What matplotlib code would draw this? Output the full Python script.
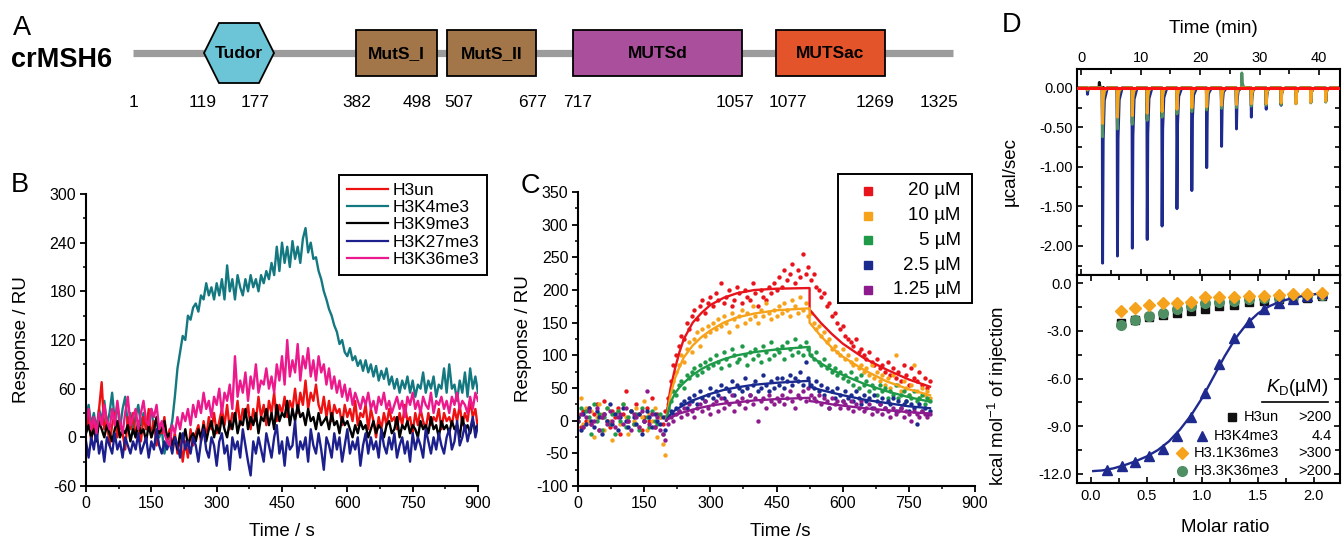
import numpy as np
import matplotlib
matplotlib.use('Agg')
import matplotlib.pyplot as plt
from matplotlib.patches import Rectangle, Polygon
from matplotlib.lines import Line2D
from matplotlib.ticker import MultipleLocator, FormatStrFormatter

plt.rcParams['font.family'] = ['Liberation Sans', 'DejaVu Sans']
plt.rcParams['axes.unicode_minus'] = False
plt.rcParams['mathtext.fontset'] = 'custom'
plt.rcParams['mathtext.rm'] = 'Liberation Sans'
plt.rcParams['mathtext.it'] = 'Liberation Sans:italic'
plt.rcParams['mathtext.bf'] = 'Liberation Sans:bold'

# ---------------- Panel A data ----------------
protein_name = 'crMSH6'
domain_names = ['Tudor', 'MutS_I', 'MutS_II', 'MUTSd', 'MUTSac']
domain_start = [119, 382, 507, 717, 1077]
domain_end = [177, 498, 677, 1057, 1269]
domain_colors = ['#6cc5d6', '#a27648', '#a27648', '#a94f9c', '#e4542a']
residue_labels = [1, 119, 177, 382, 498, 507, 677, 717, 1057, 1077, 1269, 1325]
# schematic layout (figure pixels)
layout_line = (133, 953, 53)
layout_dom_left = [204, 356, 447, 573, 776]
layout_dom_right = [274, 437, 536, 742, 885]
layout_label_x = [133, 203, 255, 357, 417, 459, 533, 578, 735, 788, 875, 939]

# ---------------- Panel B data (SPR sensorgrams) ----------------
b_names = ['H3un', 'H3K4me3', 'H3K9me3', 'H3K27me3', 'H3K36me3']
b_colors = ['#ee1111', '#147880', '#000000', '#1c1f8c', '#ec198c']
b_h3un = [10, 25, -5, 20, 0, 35, 68, 10, 20, -10, 15, 30, 0, 20, 5, -15, 25, 10, 30, 0, 15, -5, 25, 10, 35, 0, 20, -10, 15, 5, 25, -5,
          10, -10, 5, -20, 0, -30, -5, -25, 10, -10, 5, 15, -5, 20, 0, 25, 10, 30, 5, 20, 35, 15, 40, 10, 30, 20, 45, 15, 35, 25,
          40, 10, 35, 20, 50, 25, 40, 15, 45, 30, 55, 20, 40, 30, 50, 25, 45, 35, 60, 30, 55, 40, 70, 35, 55, 45, 65, 40, 30, 50,
          25, 45, 20, 40, 30, 35, 15, 40, 25, 35, 20, 45, 15, 30, 25, 40, 10, 35, 20, 0, 25, 10, 30, 15, 35, 20, 25, 10, 30, 15,
          40, 20, 25, 5, 30, 15, 35, 20, 10, 30, 15, 25, 20, 35, 10, 30, 20, 25, 15, 35, 20, 40, 15, 30, 20, 45, 25, 35, 10]
b_h3k4me3 = [25, 40, 15, 30, 10, 35, 20, 45, 15, 30, 55, 20, 40, 10, 35, 50, 15, 30, 5, 25, 40, 15, 30, 10, 25, 35, 10, 20, 0, 10, -20, -5,
             5, 20, 50, 85, 105, 125, 120, 150, 145, 160, 165, 155, 175, 170, 190, 175, 185, 170, 190, 175, 195, 170, 212, 180,
             195, 170, 200, 185, 175, 195, 180, 200, 185, 195, 180, 200, 190, 205, 195, 215, 200, 235, 205, 240, 215, 235, 210,
             242, 220, 235, 215, 245, 258, 228, 240, 220, 222, 205, 195, 180, 170, 158, 150, 138, 130, 115, 120, 105, 100, 110,
             95, 100, 88, 95, 82, 95, 80, 90, 75, 88, 70, 82, 72, 85, 65, 75, 60, 72, 55, 70, 60, 75, 55, 70, 50, 65, 60, 80, 55,
             70, 60, 75, 50, 65, 60, 85, 55, 90, 60, 65, 45, 70, 55, 80, 50, 85, 60, 75, 55]
b_h3k9me3 = [5, 15, 0, 10, -5, 20, 10, 0, 15, 5, -5, 10, 20, 0, 10, 5, 15, -5, 10, 0, 20, 5, 10, -5, 15, 0, 10, 25, 5, 10, 20, 0,
             5, -10, 0, -15, 5, -5, 10, -10, 0, 5, -5, 10, 0, 15, -5, 10, 20, 0, 15, 5, 25, 10, 0, 20, 10, 30, 5, 20, 15, 35, 10,
             25, 15, 30, 5, 25, 20, 35, 15, 30, 10, 40, 20, 30, 25, 45, 15, 35, 20, 40, 25, 30, 15, 35, 20, 25, 10, 30, 15, 20,
             25, 10, 30, 15, 20, 5, 25, 15, 20, 10, 0, 15, 5, 20, 10, 15, 0, 10, 20, 5, 15, 10, 0, 15, 20, 5, 10, 25, 0, 15, 10,
             20, 5, 15, 10, 0, 20, 10, 15, 5, 25, 10, 15, 0, 20, 10, 15, 5, 20, 10, 15, 0, 25, 10, 15, 5, 20, 10, 15]
b_h3k27me3 = [-5, -25, 0, -15, 10, -20, -5, -30, 0, -10, -20, 5, -15, -5, -25, 0, -10, -20, -5, -15, 5, -20, -10, 0, -25, -5, -15,
              10, -10, -20, -5, -15,
              -5, -20, 0, -10, -25, 5, -15, -5, -20, 0, -10, -30, -5, 10, -15, -25, 0, -10, -35, -5, 5, -20, -10, -40, 0, -15,
              -5, -25, 10, -10, -30, -47, -5, -20, 0, -15, -30, 5, -10, -25, 0, 15, -20, -5, -35, 0, -15, -10, 20, -25, -5, -15,
              0, -30, 10, -10, -20, 5, -15, -40, 0, -10, -25, 5, -15, 0, -30, -10, 10, -20, -5, -15, 0, -35, -10, 5, -20, 0, -15,
              -5, -25, 10, -10, -20, 0, -15, 5, -25, -10, 0, -20, -5, -30, 5, -15, 0, -10, -25, 10, -5, -20, 0, -15, 5, -10, -20,
              0, 10, -15, -5, 20, -10, 0, 15, -5, 10, 25, 0, 15]
b_h3k36me3 = [20, 35, 10, 25, 5, 30, 15, 40, 20, 10, 35, 15, 45, 20, 5, 30, 50, 15, 25, 35, 10, 30, 45, 20, 15, 35, 25, 40, 10, 20,
              5, -5,
              -10, 15, 5, 25, 10, 30, 20, 35, 15, 40, 25, 45, 30, 55, 35, 45, 25, 50, 40, 60, 30, 55, 45, 65, 35, 100, 50, 70, 55,
              80, 45, 75, 60, 90, 55, 70, 65, 85, 60, 75, 55, 90, 70, 100, 65, 120, 75, 95, 80, 115, 70, 100, 85, 110, 75, 95, 70,
              100, 80, 90, 65, 85, 60, 75, 55, 70, 50, 65, 45, 60, 40, 55, 45, 35, 50, 40, 55, 35, 45, 30, 50, 40, 55, 35, 45, 30,
              40, 50, 35, 45, 25, 50, 40, 55, 35, 45, 30, 50, 40, 35, 55, 30, 45, 40, 50, 35, 45, 30, 50, 40, 55, 35, 45, 40, 30,
              50, 35, 55, 45]
b_series = [b_h3un, b_h3k4me3, b_h3k9me3, b_h3k27me3, b_h3k36me3]
b_draw_order = [1, 0, 2, 3, 4]

# ---------------- Panel C data (SPR, concentration series) ----------------
c_labels = ['20 \u00b5M', '10 \u00b5M', '5 \u00b5M', '2.5 \u00b5M', '1.25 \u00b5M']
c_colors = ['#e8141c', '#f7a21b', '#1e9a48', '#1a2a8f', '#8e1b8e']
c_20 = [5, -10, 15, 0, 20, -5, 10, 25, -15, 5, 30, 0, -10, 15, 5, 20, -20, 10, 45, 0, 15, -5, 25, 10, -15, 5, 20, 0, 35, -10, 10,
        5, -5, 15,
        35, 60, 85, 100, 115, 130, 125, 150, 140, 160, 170, 155, 175, 185, 165, 180, 190,
        175, 195, 185, 210, 180, 190, 200, 175, 185, 205, 195, 180, 200, 190, 185, 210, 195, 175, 200, 190, 185, 205, 195, 210, 200,
        220, 205, 230, 215, 225, 240, 210, 230, 220, 255, 225, 235,
        215, 225, 205, 200, 190, 195, 175, 180, 160, 165, 150, 140, 145,
        130, 125, 120, 115, 125, 105, 110, 100, 95, 105, 90, 85, 95, 80, 85, 75, 90, 70, 80, 65, 75, 60, 85, 70, 55, 80, 65, 60,
        75, 55, 65, 50, 60]
c_10 = [10, 35, -5, 20, 0, 15, -25, 5, 25, 10, -15, 20, 0, -30, 10, 15, -5, 25, 5, -20, 15, 0, 20, -10, 5, 30, -15, 10, 0, 20,
        -25, 5, -35, -53,
        25, 45, 60, 75, 85, 100, 90, 110, 120, 105, 125, 135, 115, 140, 130, 145, 135,
        150, 140, 155, 145, 160, 150, 135, 165, 155, 145, 160, 170, 150, 165, 155, 175, 160, 150, 170, 160, 180, 165, 155, 170, 160,
        175, 165, 180, 170, 160, 185, 175, 165, 190, 170, 180, 160,
        165, 150, 140, 145, 130, 135, 120, 125, 110, 115, 105, 100, 110,
        95, 100, 90, 85, 95, 80, 85, 75, 80, 70, 85, 65, 75, 60, 70, 55, 65, 50, 70, 100, 55, 45, 60, 50, 40, 55, 85, 45, 35, 50,
        40, 45, 35]
c_5 = [0, 20, -10, 15, 5, -20, 25, 0, 10, -15, 5, 20, -5, 10, -20, 15, 0, 25, -10, 5, 15, -5, 10, -15, 20, 0, 5, -10, 15, 0, -5,
       10, -20, 5,
       20, 30, 45, 40, 55, 60, 50, 70, 65, 75, 80, 70, 85, 75, 90, 80, 95,
       85, 100, 90, 80, 105, 95, 85, 110, 100, 90, 95, 115, 100, 85, 105, 95, 110, 100, 90, 115, 105, 95, 120, 100, 110,
       105, 115, 95, 120, 110, 100, 125, 105, 115, 100, 120, 110,
       100, 95, 105, 90, 85, 95, 80, 85, 75, 80, 70, 75, 65,
       70, 60, 75, 55, 65, 50, 70, 55, 60, 45, 55, 50, 40, 55, 45, 50, 35, 45, 40, 55, 35, 40, 45, 30, 40, 35, 45, 30, 35, 40, 25,
       35, 30]
c_2p5 = [5, -15, 10, -5, 20, 0, -10, 15, 5, -20, 10, 0, 25, -5, 10, -15, 5, 20, 0, -10, 15, 5, -5, 10, -20, 0, 15, 5, -10, 10, 0,
         -5, 5, -15,
         5, 15, 10, 20, 15, 25, 30, 20, 35, 30, 40, 25, 45, 35, 30, 40, 50,
         35, 45, 40, 55, 35, 50, 45, 60, 40, 55, 50, 45, 65, 50, 40, 55, 60, 45, 50, 70, 55, 45, 60, 50, 65,
         55, 65, 50, 60, 70, 55, 65, 60, 75, 55, 90, 65,
         55, 50, 60, 45, 55, 40, 50, 20, 45, 35, 50, 40, 30,
         45, 35, 40, 30, 45, 35, 25, 40, 30, 35, 20, 40, 30, 25, 35, 20, 30, 25, 35, 15, 30, 20, 25, 30, 15, 25, 20, -5, 25, 15,
         20, 10, 15]
c_1p25 = [0, 10, -10, 5, 15, -5, 0, 20, -15, 5, 10, -5, 15, 0, -10, 5, 10, -5, 20, 0, -15, 10, 5, -10, 15, 0, 45, -5, 10, -10, 5,
          -15, -20, -30,
          -5, 5, 0, 10, 15, 5, 20, 10, 25, 15, 5, 20, 25, 15, 30, 20, 10,
          25, 30, 15, 35, 20, 30, 25, 40, 15, 30, 25, 35, 20, 30, 40, 25, 35, 0, 30, 35, 20, 40, 30, 25, 35,
          30, 40, 25, 35, 45, 30, 20, 40, 35, 45, 30, 50,
          40, 35, 30, 40, 25, 35, 30, 20, 35, 25, 30, 20, 30,
          25, 20, 30, 15, 25, 20, 30, 15, 20, 25, 10, 20, 15, 25, 10, 20, 15, 5, 20, 10, 15, 20, 5, 15, 10, 0, 15, 10, 5, 15, 10,
          5, 10]
c_series = [c_20, c_10, c_5, c_2p5, c_1p25]
# fitted curves (time s, response RU)
c_fit_t = [200, 205, 210, 220, 230, 240, 260, 280, 300, 330, 360, 400, 450, 525, 525, 550, 575, 600, 650, 700, 750, 798]
c_fit_20 = [0, 30, 50, 80, 105, 125, 150, 165, 177, 188, 195, 200, 202, 203, 170, 150, 133, 118, 95, 78, 63, 52]
c_fit_10 = [0, 20, 40, 65, 82, 97, 115, 128, 138, 150, 158, 164, 169, 172, 150, 130, 112, 98, 77, 60, 48, 39]
c_fit_5 = [0, 15, 28, 42, 51, 58, 70, 79, 86, 94, 100, 105, 109, 113, 100, 88, 78, 70, 56, 45, 36, 29]
c_fit_2p5 = [0, 5, 10, 16, 20, 24, 31, 36, 41, 47, 51, 55, 58, 61, 52, 47, 43, 39, 32, 27, 22, 19]
c_fit_1p25 = [0, 3, 5, 8, 11, 13, 17, 20, 23, 26, 28, 31, 33, 35, 30, 28, 25, 23, 19, 16, 13, 11]
c_fits = [c_fit_20, c_fit_10, c_fit_5, c_fit_2p5, c_fit_1p25]

# ---------------- Panel D data (ITC) ----------------
d_names = ['H3un', 'H3K4me3', 'H3.1K36me3', 'H3.3K36me3']
d_kd = ['>200', '4.4', '>300', '>200']
d_colors = ['#111111', '#1f2a8f', '#f5a21c', '#4f8f63']
d_markers = ['s', '^', 'D', 'o']
inj_time = [1.06, 3.6, 6.1, 8.6, 11.1, 13.6, 16.1, 18.6, 21.1, 23.6, 26.1, 28.6, 31.1, 33.6, 36.1, 38.6, 41.1]
raw_h3k4me3 = [-0.08, -2.22, -2.13, -2.03, -1.92, -1.75, -1.53, -1.30, -1.01, -0.74, -0.52, -0.37, -0.27, -0.22, -0.20, -0.18, -0.17]
raw_h31k36me3 = [-0.02, -0.45, -0.37, -0.35, -0.32, -0.30, -0.27, -0.25, -0.24, -0.22, -0.21, -0.20, -0.20, -0.19, -0.20, -0.18, -0.17]
raw_h33k36me3 = [-0.03, -0.62, -0.52, -0.46, -0.41, -0.37, -0.33, -0.30, -0.28, -0.26, -0.25, -0.23, -0.22, -0.21, -0.20, -0.19, -0.18]
raw_h3un = [-0.03, -0.58, -0.50, -0.44, -0.40, -0.36, -0.33, -0.30, -0.28, -0.26, -0.24, -0.22, -0.21, -0.20, -0.19, -0.18, -0.17]
artifact_h33_time, artifact_h33_val = [27.0], [0.19]
artifact_h3un_time, artifact_h3un_val = [3.05], [0.07]

ratio_h3k4me3 = [0.147, 0.276, 0.396, 0.522, 0.646, 0.770, 0.898, 1.027, 1.153, 1.282, 1.417, 1.552, 1.687, 1.817, 1.943, 2.078]
heat_h3k4me3 = [-11.75, -11.47, -11.22, -10.90, -10.43, -9.59, -8.39, -6.88, -5.10, -3.46, -2.45, -1.64, -1.26, -1.00, -0.80, -0.63]
ratio_peptide = [0.27, 0.396, 0.522, 0.646, 0.770, 0.898, 1.027, 1.153, 1.282, 1.417, 1.552, 1.687, 1.817, 1.943, 2.078]
heat_h3un = [-2.50, -2.30, -2.15, -2.00, -1.85, -1.75, -1.60, -1.45, -1.35, -1.20, -1.10, -1.00, -0.95, -0.90, -0.80]
heat_h31k36me3 = [-1.72, -1.57, -1.36, -1.26, -1.22, -1.15, -0.84, -0.88, -0.84, -0.80, -0.78, -0.73, -0.69, -0.67, -0.63]
heat_h33k36me3 = [-2.62, -2.30, -2.05, -1.85, -1.62, -1.42, -1.25, -1.15, -1.10, -1.00, -0.95, -0.90, -0.85, -0.80, -0.72]
fit_ratio = [0.02, 0.1, 0.2, 0.3, 0.4, 0.5, 0.6, 0.7, 0.8, 0.9, 1.0, 1.1, 1.2, 1.3, 1.4, 1.5, 1.6, 1.7, 1.8, 1.9, 2.0, 2.08]
fit_heat = [-11.82, -11.78, -11.65, -11.45, -11.2, -10.9, -10.5, -9.95, -9.2, -8.3, -7.2, -5.9, -4.6, -3.45, -2.55, -1.9,
            -1.45, -1.15, -0.95, -0.8, -0.7, -0.62]

# ---------------- Figure ----------------
W, H = 1343, 540
fig = plt.figure(figsize=(W / 100, H / 100), dpi=100)


def px_axes(l, t, r, b):
    return fig.add_axes([l / W, 1 - b / H, (r - l) / W, (b - t) / H])


# overlay for panel A (pixel coordinates)
axa = fig.add_axes([0, 0, 1, 1])
axa.set_xlim(0, W)
axa.set_ylim(H, 0)
axa.axis('off')
lx0, lx1, ly = layout_line
axa.plot([lx0, lx1], [ly, ly], color='#9c9c9c', lw=5.2, solid_capstyle='butt', zorder=1)
for name, xl, xr, col in zip(domain_names, layout_dom_left, layout_dom_right, domain_colors):
    if name == 'Tudor':
        dx = 15
        poly = Polygon([(xl, ly), (xl + dx, ly - 30), (xr - dx, ly - 30), (xr, ly), (xr - dx, ly + 30), (xl + dx, ly + 30)],
                       closed=True, facecolor=col, edgecolor='black', lw=1.3, zorder=2)
        axa.add_patch(poly)
    else:
        axa.add_patch(Rectangle((xl, ly - 23), xr - xl, 46, facecolor=col, edgecolor='black', lw=1.3, zorder=2))
    axa.text((xl + xr) / 2, ly + 1, name, ha='center', va='center', fontsize=12.5, fontweight='bold', zorder=3)
for res, x in zip(residue_labels, layout_label_x):
    axa.text(x, 107, str(res), ha='center', va='baseline', fontsize=12.5)
axa.text(11, 67, protein_name, ha='left', va='baseline', fontsize=19.5, fontweight='bold')
for letter, x, y in [('A', 13, 35), ('B', 11, 192), ('C', 521, 193), ('D', 1002, 32)]:
    axa.text(x, y, letter, ha='left', va='baseline', fontsize=19.5)


def style_open(ax):
    for s in ['top', 'right']:
        ax.spines[s].set_visible(False)
    for s in ['left', 'bottom']:
        ax.spines[s].set_linewidth(1.5)
    ax.tick_params(which='major', direction='out', length=4.5, width=1.3, labelsize=11.5, pad=2.5)
    ax.tick_params(which='minor', direction='out', length=2.5, width=1.1)


# ---------------- Panel B ----------------
axb = px_axes(86, 194, 478, 486)
for i in b_draw_order:
    v = b_series[i]
    t = np.linspace(0, 900, len(v))
    axb.plot(t, v, color=b_colors[i], lw=1.7)
axb.set_xlim(0, 900)
axb.set_ylim(-60, 300)
axb.xaxis.set_major_locator(MultipleLocator(150))
axb.xaxis.set_minor_locator(MultipleLocator(75))
axb.yaxis.set_major_locator(MultipleLocator(60))
axb.yaxis.set_minor_locator(MultipleLocator(30))
style_open(axb)
axb.set_xlabel('Time / s', fontsize=13.5)
axb.set_ylabel('Response / RU', fontsize=13.5)
axb.xaxis.set_label_coords(0.5, -0.125)
axb.yaxis.set_label_coords(-0.143, 0.5)
handles = [Line2D([], [], color=c, lw=1.6) for c in b_colors]
leg = axb.legend(handles, b_names, loc='upper right', bbox_to_anchor=(487 / W, 1 - 175 / H),
                 bbox_transform=fig.transFigure, borderaxespad=0, fontsize=12.5, handlelength=2.4,
                 handletextpad=0.25, labelspacing=0.12, borderpad=0.45, fancybox=False, framealpha=1)
leg.get_frame().set_edgecolor('black')
leg.get_frame().set_linewidth(1.4)

# ---------------- Panel C ----------------
axc = px_axes(578, 192, 975, 486)
for v, col in zip(c_series, c_colors):
    t = np.linspace(0, 798, len(v))
    axc.scatter(t, v, s=10, color=col, linewidths=0, zorder=2)
for f, col in zip(c_fits, c_colors):
    axc.plot(c_fit_t, f, color=col, lw=1.7, zorder=3)
axc.set_xlim(0, 900)
axc.set_ylim(-100, 350)
axc.xaxis.set_major_locator(MultipleLocator(150))
axc.xaxis.set_minor_locator(MultipleLocator(75))
axc.yaxis.set_major_locator(MultipleLocator(50))
axc.yaxis.set_minor_locator(MultipleLocator(25))
style_open(axc)
axc.set_xlabel('Time /s', fontsize=13.5)
axc.set_ylabel('Response / RU', fontsize=13.5)
axc.xaxis.set_label_coords(0.509, -0.125)
axc.yaxis.set_label_coords(-0.116, 0.5)
axc.add_patch(Rectangle((0.655, 0.622), 0.337, 0.439, transform=axc.transAxes, facecolor='white',
                        edgecolor='black', lw=1.4, clip_on=False, zorder=5))
for k, (lab, col) in enumerate(zip(c_labels, c_colors)):
    yy = 1.004 - k * 0.0843
    axc.plot([0.731], [yy], 's', ms=5.5, color=col, transform=axc.transAxes, clip_on=False, zorder=6)
    axc.text(0.964, yy, lab, ha='right', va='center', fontsize=13.5, transform=axc.transAxes, zorder=6)

# ---------------- Panel D top (raw thermogram) ----------------
axd1 = px_axes(1077, 69, 1340, 275)


def spike_trace(times, peaks, t0=-0.7, t1=43.6):
    tt, yy = [t0], [0.0]
    for ti, pi in sorted(zip(times, peaks)):
        tt += [ti - 0.06, ti, ti + 0.1, ti + 0.3, ti + 0.8]
        yy += [0.0, pi, pi * 0.3, pi * 0.07, 0.0]
    tt.append(t1)
    yy.append(0.0)
    return tt, yy


for times, peaks, col in [
        (inj_time, raw_h3k4me3, d_colors[1]),
        (inj_time + artifact_h3un_time, raw_h3un + artifact_h3un_val, d_colors[0]),
        (inj_time + artifact_h33_time, raw_h33k36me3 + artifact_h33_val, d_colors[3]),
        (inj_time, raw_h31k36me3, d_colors[2])]:
    tt, yy = spike_trace(times, peaks)
    axd1.plot(tt, yy, color=col, lw=2.1)
axd1.axhline(0, color='#ff1010', lw=2.2, zorder=5)
axd1.set_xlim(-0.7, 43.5)
axd1.set_ylim(-2.37, 0.24)
axd1.xaxis.set_major_locator(MultipleLocator(10))
axd1.xaxis.set_minor_locator(MultipleLocator(5))
axd1.yaxis.set_major_locator(MultipleLocator(0.5))
axd1.yaxis.set_minor_locator(MultipleLocator(0.25))
axd1.yaxis.set_major_formatter(FormatStrFormatter('%.2f'))
axd1.tick_params(which='both', direction='in', top=True, bottom=True, left=True, right=True,
                 labeltop=True, labelbottom=False, labelsize=10.5, width=1.2, pad=3)
axd1.tick_params(which='major', length=4.5)
axd1.tick_params(which='minor', length=3.5)
for s in axd1.spines.values():
    s.set_linewidth(1.5)
axd1.xaxis.set_label_position('top')
axd1.set_xlabel('Time (min)', fontsize=13.5)
axd1.set_ylabel('\u00b5cal/sec', fontsize=13.5)
axd1.xaxis.set_label_coords(0.517, 1.175)
axd1.yaxis.set_label_coords(-0.222, 0.5)

# ---------------- Panel D bottom (integrated heats) ----------------
axd2 = px_axes(1077, 275, 1340, 483)
axd2.plot(ratio_peptide, heat_h3un, 's', color=d_colors[0], ms=6, zorder=2)
axd2.plot(ratio_peptide, heat_h33k36me3, 'o', color=d_colors[3], ms=7, zorder=3)
axd2.plot(fit_ratio, fit_heat, '-', color=d_colors[1], lw=1.7, zorder=4)
axd2.plot(ratio_h3k4me3, heat_h3k4me3, '^', color=d_colors[1], ms=7.5, zorder=5)
axd2.plot(ratio_peptide, heat_h31k36me3, 'D', color=d_colors[2], ms=6.5, zorder=6)
axd2.set_xlim(-0.126, 2.237)
axd2.set_ylim(-12.57, 0.52)
axd2.xaxis.set_major_locator(MultipleLocator(0.5))
axd2.xaxis.set_minor_locator(MultipleLocator(0.25))
axd2.yaxis.set_major_locator(MultipleLocator(3.0))
axd2.yaxis.set_minor_locator(MultipleLocator(1.5))
axd2.xaxis.set_major_formatter(FormatStrFormatter('%.1f'))
axd2.yaxis.set_major_formatter(FormatStrFormatter('%.1f'))
axd2.tick_params(which='both', direction='in', top=True, bottom=True, left=True, right=True,
                 labelsize=10.5, width=1.2, pad=4)
axd2.tick_params(which='major', length=4.5)
axd2.tick_params(which='minor', length=3.5)
for s in axd2.spines.values():
    s.set_linewidth(1.5)
axd2.set_xlabel('Molar ratio', fontsize=13.5)
axd2.set_ylabel(r'kcal mol$^{\mathregular{-1}}$ of injection', fontsize=13.5)
axd2.xaxis.set_label_coords(0.563, -0.175)
axd2.yaxis.set_label_coords(-0.255, 0.42)

# D legend
axd2.text(0.954, 0.46, r'$K_{\mathregular{D}}$' + '(\u00b5M)', ha='right', va='center', fontsize=13.5,
          transform=axd2.transAxes)
axd2.plot([0.703, 0.954], [0.389, 0.389], color='black', lw=1.2, transform=axd2.transAxes)
fig.canvas.draw()
rend = fig.canvas.get_renderer()
legend_rows = [0.317, 0.226, 0.144, 0.058]
for name, kd, col, mk, yy in zip(d_names, d_kd, d_colors, d_markers, legend_rows):
    tx = axd2.text(0.769, yy, name, ha='right', va='center', fontsize=10.5, transform=axd2.transAxes)
    axd2.text(0.968, yy, kd, ha='right', va='center', fontsize=10.5, transform=axd2.transAxes)
    bb = tx.get_window_extent(renderer=rend)
    x_left = axd2.transAxes.inverted().transform((bb.x0, bb.y0))[0]
    ms = {'s': 6, '^': 7.5, 'D': 6.5, 'o': 7}[mk]
    axd2.plot([x_left - 0.045], [yy], mk, color=col, ms=ms, transform=axd2.transAxes, clip_on=False)

fig.savefig('out.png', dpi=100)
